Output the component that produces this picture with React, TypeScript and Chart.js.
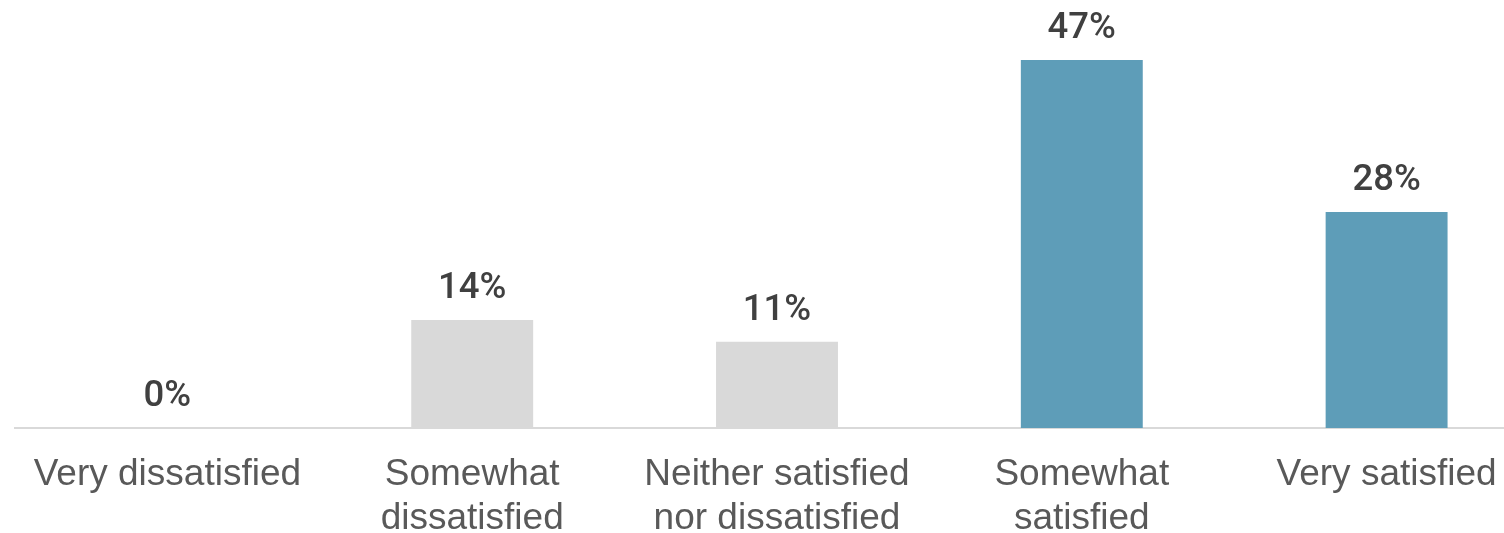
import React, { useEffect, useRef } from "react";
import { Chart, registerables } from "chart.js";

Chart.register(...registerables);

const categories: (string | string[])[] = [
  "Very dissatisfied",
  ["Somewhat", "dissatisfied"],
  ["Neither satisfied", "nor dissatisfied"],
  ["Somewhat", "satisfied"],
  "Very satisfied",
];
const values = [0, 13.8, 11.0, 47.0, 27.6];
const valueLabels = ["0%", "14%", "11%", "47%", "28%"];
const barColors = ["#D9D9D9", "#D9D9D9", "#D9D9D9", "#5E9DB8", "#5E9DB8"];

const valueLabelPlugin = {
  id: "valueLabels",
  afterDatasetsDraw(chart: any) {
    const ctx = chart.ctx;
    const meta = chart.getDatasetMeta(0);
    ctx.save();
    ctx.font = "500 36.5px Roboto";
    ctx.fillStyle = "#404040";
    ctx.textAlign = "center";
    ctx.textBaseline = "alphabetic";
    meta.data.forEach((bar: any, i: number) => {
      ctx.fillText(valueLabels[i], bar.x, bar.y - 22);
    });
    ctx.restore();
  },
};

export default function App() {
  const ref = useRef<HTMLCanvasElement>(null);
  useEffect(() => {
    document.documentElement.style.overflow = "hidden";
    document.body.style.overflow = "hidden";
    const chart = new Chart(ref.current!, {
      type: "bar",
      data: {
        labels: categories,
        datasets: [
          {
            data: values,
            backgroundColor: barColors,
            borderWidth: 0,
            categoryPercentage: 1,
            barPercentage: 0.4,
          },
        ],
      },
      plugins: [valueLabelPlugin],
      options: {
        responsive: false,
        animation: false,
        layout: { padding: { left: 15, right: 0, top: 0, bottom: 0 } },
        plugins: { legend: { display: false }, tooltip: { enabled: false } },
        scales: {
          y: { display: false, min: 0, max: 54.66 },
          x: {
            afterFit: (s: any) => {
              s.height = 105;
            },
            grid: { display: false, drawTicks: false },
            border: { display: true, color: "#D9D9D9", width: 2 },
            ticks: {
              padding: 25,
              maxRotation: 0,
              autoSkip: false,
              color: "#595959",
              font: { family: "'Liberation Sans', Arial", size: 37, lineHeight: 1.18 },
            },
          },
        },
      },
    });
    return () => chart.destroy();
  }, []);
  return (
    <div style={{ position: "absolute", left: 0, top: 0, width: 1539, height: 533 }}>
      <canvas ref={ref} width={1539} height={533} style={{ width: 1539, height: 533 }} />
    </div>
  );
}
